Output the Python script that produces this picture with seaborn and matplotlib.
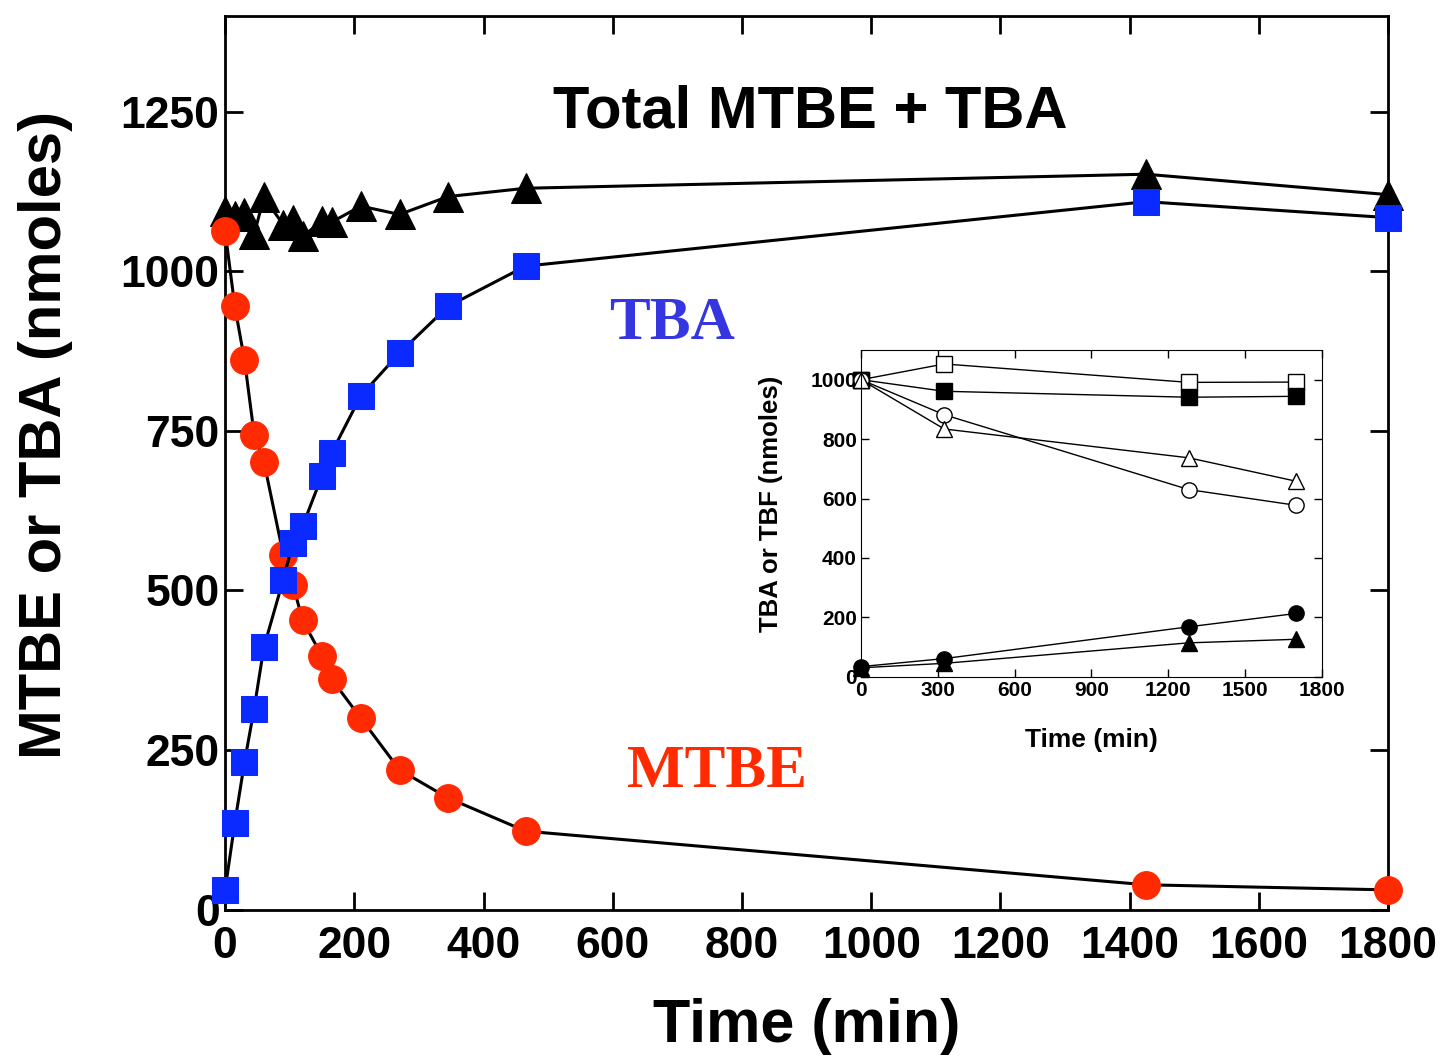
import numpy as np
import pandas as pd
import seaborn as sns
import matplotlib.pyplot as plt

# datos
tiempo = [0, 15, 30, 45, 60, 90, 105, 120, 150, 165, 210, 270, 345, 465, 1425, 1800]
mtbe = [1063, 945, 861, 744, 702, 556, 509, 453, 397, 361, 300, 219, 175, 123, 39, 31]
tba = [31, 136, 231, 315, 411, 517, 575, 601, 680, 716, 805, 872, 945, 1008, 1109, 1084]
total = [1094, 1086, 1091, 1058, 1116, 1073, 1081, 1055, 1078, 1077, 1102, 1089, 1117, 1130, 1152, 1120]

tiempo_inset = [0, 325, 1280, 1700]
inset_sq_open = [1000, 1053, 991, 992]
inset_sq_fill = [1000, 961, 941, 944]
inset_circ_open = [1000, 882, 630, 577]
inset_tri_open = [1000, 834, 737, 658]
inset_circ_fill = [34, 61, 168, 213]
inset_tri_fill = [30, 45, 114, 126]

sns.set_style('ticks')
plt.rcParams['font.family'] = ['Liberation Sans', 'DejaVu Sans']
plt.rcParams['font.weight'] = 'bold'
plt.rcParams['text.color'] = 'black'
plt.rcParams['axes.labelcolor'] = 'black'
plt.rcParams['xtick.color'] = 'black'
plt.rcParams['ytick.color'] = 'black'
plt.rcParams['axes.edgecolor'] = 'black'

fig = plt.figure(figsize=(14.43, 10.59), dpi=100)
ax = fig.add_axes([0.156, 0.141, 0.806, 0.844])

rojo = '#ff2a00'
azul = '#0a2aff'

sns.lineplot(x=tiempo, y=total, ax=ax, color='black', lw=2.2, marker='^', markersize=22,
             markerfacecolor='black', markeredgecolor='black', clip_on=False, zorder=3)
sns.lineplot(x=tiempo, y=tba, ax=ax, color='black', lw=2.2, marker='s', markersize=19,
             markerfacecolor=azul, markeredgecolor=azul, clip_on=False, zorder=4)
sns.lineplot(x=tiempo, y=mtbe, ax=ax, color='black', lw=2.2, marker='o', markersize=20,
             markerfacecolor=rojo, markeredgecolor=rojo, clip_on=False, zorder=3)

ax.set_xlim(0, 1800)
ax.set_ylim(0, 1400)
ax.set_xticks(range(0, 1801, 200))
ax.set_yticks(range(0, 1251, 250))
ax.tick_params(direction='in', length=13, width=2, labelsize=32, top=True, right=True, pad=12)
ax.tick_params(axis='y', pad=4)
for lab in ax.get_xticklabels() + ax.get_yticklabels():
    lab.set_fontweight('bold')
for s in ax.spines.values():
    s.set_linewidth(2)
ax.set_xlabel('Time (min)', fontsize=44, fontweight='bold', labelpad=22)
ax.set_ylabel('MTBE or TBA (nmoles)', fontsize=43, fontweight='bold')
ax.yaxis.set_label_coords(-0.131, 0.531)

ax.text(905, 1250, 'Total MTBE + TBA', fontsize=43, fontweight='bold', ha='center', va='center')
ax.text(692, 917, 'TBA', fontsize=44, fontweight='bold', ha='center', va='center',
        family='Liberation Serif', color='#3636e0')
ax.text(762, 216, 'MTBE', fontsize=44, fontweight='bold', ha='center', va='center',
        family='Liberation Serif', color=rojo)

# inset
axi = fig.add_axes([0.5967, 0.361, 0.3194, 0.3085])
series = [
    (inset_sq_open, 's', 'white'),
    (inset_sq_fill, 's', 'black'),
    (inset_circ_open, 'o', 'white'),
    (inset_tri_open, '^', 'white'),
    (inset_circ_fill, 'o', 'black'),
    (inset_tri_fill, '^', 'black'),
]
for vals, m, fc in series:
    sns.lineplot(x=tiempo_inset, y=vals, ax=axi, color='black', lw=1, marker=m, markersize=11,
                 markerfacecolor=fc, markeredgecolor='black', markeredgewidth=1, clip_on=False)
axi.set_xlim(0, 1800)
axi.set_ylim(0, 1100)
axi.set_xticks(range(0, 1801, 300))
axi.set_yticks(range(0, 1001, 200))
axi.tick_params(direction='in', length=6, width=1, labelsize=15, top=True, right=True, pad=3)
for lab in axi.get_xticklabels() + axi.get_yticklabels():
    lab.set_fontweight('bold')
axi.set_xlabel('Time (min)', fontsize=19, fontweight='bold', labelpad=20)
axi.set_ylabel('TBA or TBF (nmoles)', fontsize=18.5, fontweight='bold')
axi.yaxis.set_label_coords(-0.17, 0.53)

plt.savefig('out.png', dpi=100)
